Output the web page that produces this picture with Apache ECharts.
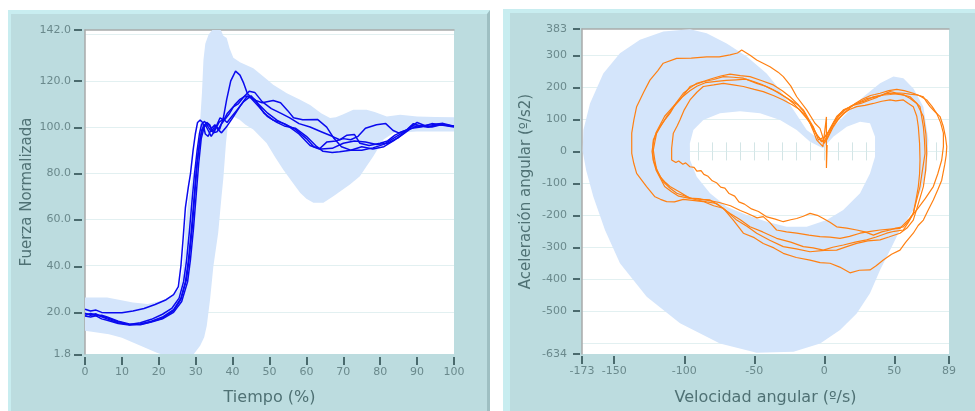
<!DOCTYPE html>
<html><head><meta charset="utf-8">
<script src="https://cdn.jsdelivr.net/npm/echarts@6/dist/echarts.min.js"></script>
<style>
html,body{margin:0;padding:0;background:#fff}
#wrap{position:relative;width:975px;height:411px;overflow:hidden}
.panel{position:absolute;background:#bcdcdf;box-sizing:border-box}
#p1{left:8px;top:10px;width:482px;height:401px;border-top:4px solid #c8edf0;border-left:3px solid #c8edf0;border-right:3px solid #9ebfc2}
#p2{left:503px;top:9px;width:472px;height:402px;border-top:4px solid #c8edf0;border-left:7px solid #c8edf0}
#c{position:absolute;left:0;top:0;width:975px;height:411px}
</style>
</head><body><div id="wrap"><div class="panel" id="p1"></div><div class="panel" id="p2"></div><div id="c"></div></div><script>
// ---------- left chart data ----------
const forceTicks = [1.8, 20, 40, 60, 80, 100, 120, 142];
const forceGrid = [20, 40, 60, 80, 100, 120, 140];
const bandUpper = [[0,26.3],[6,26.3],[13,24.1],[17,23.4],[21,25],[24,27.5],[25.5,30],[26.5,38],[27.2,57],[28,68],[29,78],[30,84],[30.7,90],[31.3,105],[31.7,115],[32.1,129],[32.6,136],[33.5,140],[34.5,142],[36.8,142],[37.5,139.5],[38.4,138.5],[39.2,134],[40.2,130],[42,128],[45.6,125.5],[49,121],[51,118.3],[54.7,114.6],[58.3,111.8],[61,109.5],[64,106],[66.4,103.9],[68,104.2],[70,105.5],[72.7,107.5],[76.3,107.5],[78.5,106.5],[81.8,104.6],[85.4,105.3],[90,104.6],[95,104.4],[100,104.2]];
const bandLower = [[0,11.9],[6.5,10.4],[10,8.8],[13,6.8],[16,4.7],[19.3,2.5],[20.5,1.8],[29.5,1.8],[31.2,5.4],[32.3,9],[33,14],[33.9,25.5],[34.8,39.9],[36.1,54.3],[37,70],[37.5,78],[38.2,93],[38.8,101.8],[40.2,104.6],[41.9,103.2],[43.5,101],[45.6,98.9],[49.2,93.1],[51.5,87],[53.7,81.6],[56,76.5],[58.3,71.6],[60,69],[61.9,67.2],[64.6,67.2],[67.3,70.1],[71.8,75.1],[74.5,78.7],[76.3,83],[78.1,87.3],[80.9,94.6],[83.6,97.4],[89.9,98.1],[100,98.1]];
const force1 = [[0,21.2],[1.5,20.4],[3,20.8],[4.5,19.8],[6,19.6],[10,19.6],[13,20.4],[16,21.5],[19,23.2],[22,25.3],[24,27.5],[25.3,31],[26,40],[26.6,52],[27.2,65],[28,74],[28.6,80],[29.3,90],[29.9,97],[30.5,102],[31.2,103],[31.9,102],[32.6,97],[33.4,96],[34.3,99.5],[35.2,101],[36,99],[37,97.5],[38.3,100],[40,104],[42,109],[44,113.5],[46,112],[48.5,106],[51,103],[54,101.5],[57,99],[60,95],[62,91.5],[64,90.5],[67,90.8],[70,93],[73,94],[76,93.5],[79,92.5],[82,93],[85,95.5],[88,99],[90,100.5],[93,100],[96,101.3],[100,100.2]];
const force2 = [[0,19.5],[1.5,18.6],[3,19.2],[4.5,17.9],[6,17],[9,15.3],[12,14.6],[15,15.3],[18,16.8],[21,19],[23.5,21.5],[25.5,26],[26.7,33],[27.5,42],[28.3,55],[29,68],[29.7,80],[30.4,90],[31,97],[31.6,101.2],[32.4,102.5],[33.2,100.5],[34.2,98],[35.3,100.5],[36.5,99],[37.5,104],[38.4,112],[39.5,120],[40.8,124.2],[42,122.5],[43,119],[44,114.5],[45.5,112],[48,110.5],[51,111.5],[53,110.5],[55,107],[56.5,104],[59,103.2],[63,103.3],[65.5,100],[67.5,95],[69.5,91.5],[72,90],[75,90],[78,91],[81,92.5],[84,95.5],[87,98.5],[89,101.5],[91,100.5],[94,101],[97,101.6],[100,100.4]];
const force3 = [[0,18.5],[1.5,19.3],[3,18.8],[4.5,18.2],[6,17.5],[9,15.8],[12,14.5],[15,14.8],[18,16],[21,17.8],[24,21],[26,26],[27.2,33],[28,42],[28.8,55],[29.5,68],[30.2,82],[31,93],[31.7,99],[32.6,101],[33.4,98.5],[34.2,96],[35.2,98.5],[36.3,102],[37.5,103.5],[38.5,102],[39.5,104],[41,107],[43,111],[45,113.5],[47,110],[49.5,106],[52,103],[55,100.5],[58,97],[61,92],[63.5,90.5],[65.5,93.5],[68,94],[70,95],[72,94.5],[74,96],[76,99.5],[79,101],[81.5,101.5],[83.5,98.5],[85,97.5],[87.5,99],[90,102],[93,100],[96,101],[100,100.5]];
const force4 = [[0,18.2],[1.5,17.8],[3,18.3],[4.5,17],[6,16.4],[9,15],[12,14.3],[15,14.7],[18,15.8],[21,17.3],[24,20.5],[26,25.5],[27.5,34],[28.3,44],[29.1,57],[29.8,72],[30.5,86],[31.3,96],[32.1,100.5],[33,102],[33.8,101],[34.6,98],[35.5,100],[36.6,104],[37.6,103],[38.6,106],[40,108.5],[41.5,110],[43,113],[44.5,115.5],[46,115],[48,111],[50.5,108],[53,106],[55.5,104],[58,101.5],[61,100],[64,98],[67,96],[69,94.5],[71,96.5],[73,96.8],[74.5,93],[77,92],[80,93],[82,94],[84,96.5],[86,98],[88.5,99.5],[91,100],[94,101.5],[97,100.8],[100,100]];
const force5 = [[0,19.2],[1.5,18.9],[3,18.4],[4.5,18.6],[6,17.8],[9,16],[12,14.8],[15,14.5],[18,15.6],[21,17],[24,19.8],[26.2,24.5],[27.8,33],[28.6,43],[29.4,56],[30.1,70],[30.8,84],[31.5,95],[32.3,100],[33.2,101.5],[34,100],[34.8,97.5],[35.8,98],[36.8,101],[38,103.5],[39.2,106],[40.5,109.5],[42,112],[43.5,113.5],[45,112.5],[47,109],[49.5,104.5],[52,102],[54,100.5],[57,99.5],[60,96],[62.5,92],[64.5,89.5],[67,89],[69,89.3],[72,90],[75,91.5],[78,90.5],[81,91.5],[84,94.5],[86.5,97.5],[88.5,100.5],[91,100.5],[94,100],[97,101.2],[100,100.3]];

// ---------- right chart data ----------
const accTicks = [-634, -500, -400, -300, -200, -100, 0, 100, 200, 300, 383];
const accGrid = [-600, -500, -400, -300, -200, -100, 0, 100, 200, 300];
const velTicks = [-173, -150, -100, -50, 0, 50, 89];
const velZeroTicks = [-170,-160,-150,-140,-130,-120,-110,-100,-90,-80,-70,-60,-50,-40,-30,-20,-10,0,10,20,30,40,50,60,70,80];
const outerRing = [[-0.5,20],[1.7,36],[6.5,77],[16,119],[27.9,171],[39.8,213],[49.3,234],[56.4,229],[63.6,197],[70.7,140],[74.3,36],[73.1,-58],[69,-120],[63.6,-183],[54,-246],[46.9,-309],[39.8,-371],[32.6,-444],[23.1,-507],[11.2,-559],[-3,-601],[-22,-627],[-48.3,-630],[-74.5,-601],[-103,-538],[-126.8,-455],[-145.9,-350],[-156.6,-246],[-164.9,-142],[-170,-60],[-172.5,0],[-172,67],[-167.3,150],[-157.8,244],[-145.9,307],[-131.6,349],[-114.9,375],[-95.9,382],[-84,370],[-69.7,338],[-55.4,297],[-41.2,244],[-31.6,192],[-22.1,130],[-12.6,67],[-3.1,36]];
const innerRing = [[-1,10],[-10.2,30],[-19.7,67],[-31.6,98],[-45.9,119],[-60.2,126],[-74.5,119],[-86.4,98],[-93.5,67],[-96,25],[-95.9,-27],[-91.1,-79],[-81.6,-131],[-69.7,-173],[-55.4,-199],[-41,-220],[-26.9,-236],[-12.6,-236],[1.7,-215],[13.5,-183],[25.5,-131],[32.6,-69],[36.2,-17],[36.2,46],[32.6,88],[25.5,93],[16,77],[6.4,46]];
const loop1 = [[0,30],[3,60],[6.4,88],[10,112],[13.6,130],[18,138],[23,150],[29,158],[35,171],[41,176],[46.9,187],[51,183],[56.4,182],[61,179],[66,177],[70.7,171],[73,155],[75.5,140],[79,124],[82.6,109],[85,77],[86.5,45],[87.4,15],[87,-12],[86,-40],[83.8,-90],[81,-120],[77.8,-152],[74,-185],[70.7,-215],[67,-232],[63.5,-256],[58,-285],[54,-309],[48,-322],[42.1,-340],[37,-358],[32.6,-371],[25,-372],[18.3,-380],[11,-362],[4.1,-350],[-3,-348],[-10.2,-340],[-20,-332],[-29.3,-319],[-36,-302],[-43.6,-288],[-50,-270],[-57.8,-256],[-65,-215],[-72.1,-178],[-79,-170],[-86.4,-157],[-94,-153],[-100.7,-150],[-107,-158],[-112.6,-157],[-117,-150],[-120.9,-142],[-126.9,-110],[-130,-92],[-134,-69],[-136,-38],[-137.5,-6],[-137.5,57],[-136,98],[-134,140],[-129,185],[-124.5,223],[-119,252],[-115,276],[-105.4,291],[-95,292],[-84,296],[-75,296],[-67.3,302],[-62,308],[-59,317],[-53,301],[-48.3,286],[-38.8,265],[-33,248],[-29.3,234],[-24,205],[-19.7,171],[-12.6,130],[-6.7,88],[-3.1,72],[0,30]];
const loop2 = [[0.5,46],[4.1,67],[7,92],[11.2,114],[15,130],[20.7,145],[26,150],[32.6,161],[38,170],[44.5,182],[50,180],[56.4,177],[61,166],[66,150],[70.7,109],[72.5,55],[73.1,-6],[72.3,-60],[70.7,-110],[67,-165],[63.5,-215],[59,-240],[54,-256],[46,-268],[39.8,-277],[31,-280],[23.1,-288],[16,-298],[8.8,-309],[0,-310],[-10.2,-314],[-20,-305],[-29.3,-298],[-39,-278],[-48.3,-256],[-55,-235],[-62.6,-215],[-70,-186],[-76.9,-163],[-84,-158],[-91.1,-152],[-98,-142],[-105.4,-131],[-111,-112],[-115,-95],[-117.5,-75],[-119.7,-58],[-121,-28],[-122.1,4],[-121,30],[-119.7,57],[-116,85],[-112.6,109],[-108,137],[-103.1,161],[-99,185],[-95.9,203],[-91,211],[-86.4,218],[-79,225],[-72.1,234],[-65,232],[-57.8,229],[-48.3,213],[-42,204],[-36.4,192],[-30,176],[-24.5,161],[-19,146],[-15,130],[-11,100],[-7.9,77],[-4.3,36],[0.5,46]];
const loop3 = [[2.9,62],[8.8,109],[13,126],[18.3,140],[24,152],[30,165],[36,170],[42.1,177],[47,178],[51.7,182],[56,177],[61.2,171],[65,155],[68.3,140],[70.7,77],[71.5,35],[71.9,-6],[70,-60],[68.3,-110],[66,-150],[63.5,-194],[60,-222],[56.4,-246],[50,-250],[44.5,-256],[37,-268],[30.2,-277],[22,-284],[13.6,-293],[6,-300],[-0.7,-309],[-8,-302],[-15,-298],[-24,-284],[-34.1,-272],[-44,-252],[-53.1,-236],[-60,-214],[-67.3,-194],[-75,-170],[-81.6,-152],[-88,-150],[-95.9,-147],[-103,-128],[-110.2,-110],[-114,-95],[-117.3,-79],[-120,-52],[-122.1,-27],[-122.5,5],[-122.1,36],[-120,57],[-117.3,77],[-114,98],[-110.2,119],[-106,150],[-100.7,182],[-96,198],[-91.1,213],[-85,221],[-80,228],[-74,236],[-67.3,242],[-60,237],[-53.1,234],[-45,222],[-36.4,208],[-30,190],[-24.5,171],[-19,148],[-15,125],[-11,96],[-8,70],[-2,30],[2.9,62]];
const loop4 = [[1.7,36],[6.4,77],[10,100],[13.6,119],[18,131],[23.1,140],[29,144],[35,150],[41,157],[46.9,161],[51,158],[56.4,161],[60,150],[63.5,140],[66,110],[67.1,77],[68,25],[68.3,-27],[68,-70],[67.1,-110],[65.5,-150],[63.5,-194],[60,-218],[56.4,-236],[51,-240],[46.9,-246],[41,-252],[35,-262],[29,-252],[23.1,-246],[16,-240],[8.8,-236],[4,-222],[-0.7,-210],[-5,-200],[-10.2,-194],[-15,-203],[-19.7,-210],[-24,-214],[-29.3,-220],[-35,-212],[-41,-205],[-47,-188],[-52,-180],[-57,-165],[-61,-158],[-64,-140],[-68,-132],[-71,-115],[-74,-112],[-77,-98],[-80,-92],[-83,-78],[-86,-72],[-88,-60],[-91,-62],[-93,-50],[-96,-48],[-99,-36],[-101,-40],[-104,-30],[-106,-35],[-109,-27],[-109,10],[-107.8,57],[-105,80],[-103.1,98],[-100,130],[-95.9,161],[-91,185],[-86.4,203],[-79,208],[-72.1,213],[-65,208],[-57.8,203],[-50,194],[-43.6,187],[-36,174],[-29.3,161],[-23,146],[-17.4,130],[-13,108],[-10.2,88],[-7.5,60],[-5.5,36],[-1,15],[1.5,108],[1.5,-52],[2,20]];
const loop5 = [[0,25],[5,70],[8,92],[12,110],[17,131],[22,150],[27,163],[33,175],[36,178],[39.8,182],[46,190],[51.7,194],[57,190],[63.5,182],[68,174],[73.1,161],[77,140],[80.2,119],[83,90],[85,57],[85,15],[83.8,-27],[81,-70],[77.8,-110],[72,-148],[66,-183],[60,-214],[54,-241],[47,-243],[39.8,-246],[33,-250],[25.5,-256],[18,-266],[11.2,-272],[4,-268],[-3.1,-267],[-11,-262],[-19.7,-256],[-27,-252],[-34.1,-246],[-39,-222],[-43.6,-204],[-48,-208],[-52,-200],[-56,-192],[-60,-185],[-67,-170],[-75,-160],[-82,-154],[-90,-148],[-97,-146],[-104,-140],[-109,-126],[-114,-110],[-117,-85],[-120,-60],[-122,-30],[-123,0],[-122,30],[-120,60],[-117,85],[-114,110],[-110,130],[-106,150],[-101,172],[-96,190],[-91,204],[-85,215],[-77,219],[-70,222],[-63,224],[-56,226],[-50,218],[-45,210],[-39,198],[-33,185],[-27,168],[-22,150],[-17,126],[-12,100],[-8,75],[-5,50],[0,25]];

// ---------- styles ----------
const FONT = 'DejaVu Sans';
const bandColor = '#d4e5fb';
const tickColor = '#4a6a6d';
const labelColor = '#6a898c';
const titleColor = '#4f7174';
const borderColor = '#a8aaaa';
const gridColor = '#e2f0f1';
const blue = '#0a0aee';
const orange = '#ff8012';

function signedArea(p) {
  let a = 0;
  for (let i = 0; i < p.length; i++) { const q = p[(i + 1) % p.length]; a += p[i][0] * q[1] - q[0] * p[i][1]; }
  return a;
}
function polyRender(outer, inner) {
  return function (params, api) {
    const op = outer.map(p => api.coord(p));
    let pts = op;
    if (inner) {
      let ip = inner.map(p => api.coord(p));
      if (Math.sign(signedArea(op)) === Math.sign(signedArea(ip))) ip = ip.reverse();
      pts = op.concat([op[0]], ip, [ip[0]]);
    }
    return { type: 'polygon', silent: true, shape: { points: pts }, style: { fill: bandColor } };
  };
}
const lbl = { fontFamily: FONT, fontSize: 11, color: labelColor };
const nameStyle = (s) => ({ fontFamily: FONT, fontSize: s, color: titleColor });
const hidden = { axisLine: { show: false, onZero: false }, axisTick: { show: false }, axisLabel: { show: false }, splitLine: { show: false } };
function dummy(grid) { return Object.assign({ gridIndex: grid, type: 'value', min: 0, max: 1 }, hidden); }
// axis whose split lines act as outside tick marks in a thin strip grid
function tickAxis(grid, min, max, values, interval) {
  const a = { gridIndex: grid, type: 'value', min: min, max: max,
    axisLine: { show: false, onZero: false }, axisLabel: { show: false },
    axisTick: { show: false },
    splitLine: { show: true, lineStyle: { color: tickColor, width: 2 } } };
  if (values) a.axisTick.customValues = values;
  if (interval) a.interval = interval;
  return a;
}
const leftPoly = bandUpper.concat(bandLower.slice().reverse());

const option = {
  animation: false,
  backgroundColor: 'transparent',
  grid: [
    { left: 85, top: 30, width: 369, height: 325, show: true, backgroundColor: '#ffffff', borderWidth: 0 },
    { left: 582, top: 29, width: 367, height: 325, show: true, backgroundColor: '#ffffff', borderWidth: 0 },
    { left: 85, top: 357, width: 369, height: 8, show: false },
    { left: 74, top: 30, width: 8, height: 325, show: false },
    { left: 582, top: 356, width: 367, height: 8, show: false },
    { left: 573, top: 29, width: 7, height: 325, show: false }
  ],
  xAxis: [
    { gridIndex: 0, type: 'value', min: 0, max: 100, interval: 10, position: 'bottom',
      axisLine: { show: false, onZero: false }, axisTick: { show: false },
      axisLabel: Object.assign({ show: true, margin: 13 }, lbl), splitLine: { show: false },
      name: 'Tiempo (%)', nameLocation: 'middle', nameGap: 36, nameTextStyle: nameStyle(16) },
    { gridIndex: 0, type: 'value', min: 0, max: 100, position: 'top',
      axisLine: { show: true, onZero: false, lineStyle: { color: borderColor, width: 1.5 } },
      axisTick: { show: false }, axisLabel: { show: false }, splitLine: { show: false } },
    { gridIndex: 1, type: 'value', min: -173, max: 89, position: 'bottom',
      axisLine: { show: false, onZero: false }, axisTick: { show: false, customValues: velTicks },
      axisLabel: Object.assign({ show: true, margin: 12, customValues: velTicks }, lbl), splitLine: { show: false },
      name: 'Velocidad angular (º/s)', nameLocation: 'middle', nameGap: 36, nameTextStyle: nameStyle(16) },
    { gridIndex: 1, type: 'value', min: -173, max: 89, position: 'top',
      axisLine: { show: true, onZero: false, lineStyle: { color: borderColor, width: 1.5 } },
      axisTick: { show: false }, axisLabel: { show: false }, splitLine: { show: false } },
    { gridIndex: 1, type: 'value', min: -173, max: 89, position: 'bottom',
      axisLine: { show: false, onZero: true, onZeroAxisIndex: 2 },
      axisTick: { show: true, inside: true, length: 9, customValues: velZeroTicks, lineStyle: { color: '#d3e5e6', width: 1 } },
      axisLabel: { show: false }, splitLine: { show: false } },
    { gridIndex: 1, type: 'value', min: -173, max: 89, position: 'bottom',
      axisLine: { show: false, onZero: true, onZeroAxisIndex: 2 },
      axisTick: { show: true, inside: false, length: 9, customValues: velZeroTicks, lineStyle: { color: '#d3e5e6', width: 1 } },
      axisLabel: { show: false }, splitLine: { show: false } },
    tickAxis(2, 0, 100, null, 10),
    dummy(3),
    tickAxis(4, -173, 89, velTicks, null),
    dummy(5)
  ],
  yAxis: [
    { gridIndex: 0, type: 'value', min: 1.8, max: 142, position: 'left',
      axisLine: { show: true, onZero: false, lineStyle: { color: borderColor, width: 1.5 } },
      axisTick: { show: false, customValues: forceTicks },
      axisLabel: Object.assign({ show: true, margin: 14, customValues: forceTicks, formatter: v => Number(v).toFixed(1) }, lbl),
      splitLine: { show: false },
      name: 'Fuerza Normalizada', nameLocation: 'middle', nameGap: 50, nameTextStyle: nameStyle(15) },
    { gridIndex: 0, type: 'value', min: 1.8, max: 142, position: 'left',
      axisLine: { show: false, onZero: false }, axisTick: { show: false, customValues: forceGrid },
      axisLabel: { show: false }, splitLine: { show: true, lineStyle: { color: gridColor, width: 1.2 } } },
    { gridIndex: 1, type: 'value', min: -634, max: 383, position: 'left',
      axisLine: { show: true, onZero: false, lineStyle: { color: borderColor, width: 1.5 } },
      axisTick: { show: false, customValues: accTicks },
      axisLabel: Object.assign({ show: true, margin: 15, customValues: accTicks }, lbl),
      splitLine: { show: false },
      name: 'Aceleración angular (º/s2)', nameLocation: 'middle', nameGap: 48, nameTextStyle: nameStyle(15) },
    { gridIndex: 1, type: 'value', min: -634, max: 383, position: 'left',
      axisLine: { show: false, onZero: false }, axisTick: { show: false, customValues: accGrid },
      axisLabel: { show: false }, splitLine: { show: true, lineStyle: { color: gridColor, width: 1.2 } } },
    dummy(2),
    tickAxis(3, 1.8, 142, forceTicks, null),
    dummy(4),
    tickAxis(5, -634, 383, accTicks, null)
  ],
  series: [
    { type: 'custom', xAxisIndex: 0, yAxisIndex: 0, clip: true, silent: true, data: [[50, 50]], renderItem: polyRender(leftPoly, null), z: 1 },
    ...[force1, force2, force3, force4, force5].map(d => ({
      type: 'line', xAxisIndex: 0, yAxisIndex: 0, data: d, showSymbol: false, symbol: 'none', silent: true,
      lineStyle: { color: blue, width: 1.5 }, z: 3
    })),
    { type: 'custom', xAxisIndex: 2, yAxisIndex: 2, clip: true, silent: true, data: [[0, 0]], renderItem: polyRender(outerRing, innerRing), z: 1 },
    ...[loop1, loop2, loop3, loop4, loop5].map(d => ({
      type: 'line', xAxisIndex: 2, yAxisIndex: 2, data: d, showSymbol: false, symbol: 'none', silent: true,
      lineStyle: { color: orange, width: 1.2 }, z: 3
    }))
  ]
};
const chart = echarts.init(document.getElementById('c'), null, { renderer: 'canvas' });
chart.setOption(option);
</script></body></html>
